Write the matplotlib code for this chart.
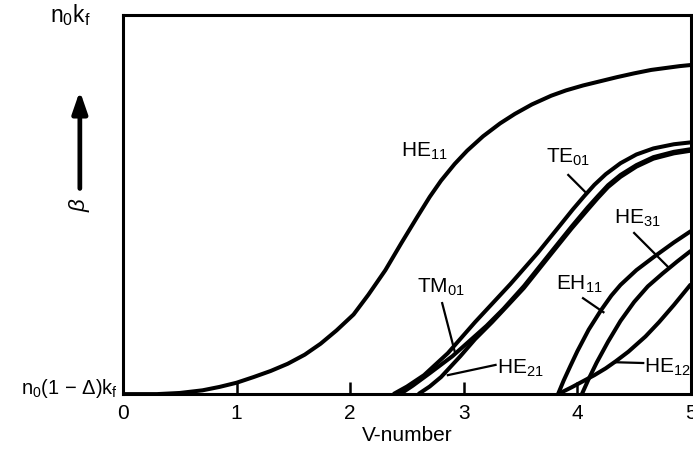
import matplotlib
matplotlib.use("Agg")
import matplotlib.pyplot as plt

plt.rcParams['font.family'] = ['Liberation Sans', 'DejaVu Sans']
plt.rcParams['mathtext.fontset'] = 'custom'
plt.rcParams['mathtext.rm'] = 'Liberation Sans'
plt.rcParams['mathtext.it'] = 'Liberation Sans:italic'

# normalized propagation constant vs V-number
he11_v = [0, 0.3, 0.5, 0.7, 0.85, 1.0, 1.15, 1.3, 1.45, 1.6, 1.74, 1.88, 2.03, 2.16, 2.31,
          2.45, 2.59, 2.7, 2.80, 2.92, 3.03, 3.17, 3.32, 3.45, 3.6, 3.77, 3.9, 4.05, 4.2,
          4.35, 4.5, 4.65, 4.8, 4.9, 5.0]
he11_b = [0, 0.0, 0.003, 0.01, 0.019, 0.03, 0.045, 0.061, 0.08, 0.104, 0.133, 0.168, 0.21,
          0.262, 0.327, 0.398, 0.467, 0.52, 0.563, 0.607, 0.642, 0.68, 0.714, 0.739, 0.764,
          0.787, 0.801, 0.814, 0.825, 0.836, 0.846, 0.855, 0.861, 0.865, 0.868]

te01_v = [2.38, 2.5, 2.65, 2.86, 3.1, 3.41, 3.65, 3.85, 3.96, 4.06, 4.15, 4.25, 4.38, 4.52,
          4.67, 4.85, 5.0]
te01_b = [0, 0.02, 0.05, 0.108, 0.19, 0.29, 0.372, 0.446, 0.487, 0.522, 0.552, 0.58, 0.609,
          0.632, 0.648, 0.659, 0.664]

tm01_v = [2.44, 2.55, 2.7, 2.9, 3.05, 3.2, 3.35, 3.53, 3.77, 3.95, 4.09, 4.18, 4.27, 4.38,
          4.52, 4.67, 4.85, 5.0]
tm01_b = [0, 0.022, 0.055, 0.1, 0.14, 0.18, 0.225, 0.285, 0.375, 0.442, 0.492, 0.522, 0.551,
          0.578, 0.604, 0.625, 0.639, 0.646]

he21_v = [2.6, 2.7, 2.8, 2.97, 3.1, 3.25, 3.4, 3.53, 3.77, 3.95, 4.09, 4.18, 4.27, 4.38,
          4.52, 4.67, 4.85, 5.0]
he21_b = [0, 0.02, 0.045, 0.1, 0.145, 0.19, 0.238, 0.28, 0.37, 0.437, 0.486, 0.517, 0.546,
          0.573, 0.6, 0.621, 0.635, 0.642]

eh11_v = [3.83, 3.88, 3.94, 4.0, 4.1, 4.21, 4.3, 4.38, 4.52, 4.67, 4.85, 5.0]
eh11_b = [0, 0.036, 0.075, 0.113, 0.17, 0.222, 0.26, 0.288, 0.327, 0.361, 0.4, 0.43]

he31_v = [4.04, 4.1, 4.17, 4.27, 4.38, 4.5, 4.62, 4.75, 4.88, 5.0]
he31_b = [0, 0.04, 0.083, 0.138, 0.193, 0.243, 0.284, 0.318, 0.35, 0.378]

he12_v = [3.83, 3.95, 4.05, 4.15, 4.25, 4.34, 4.45, 4.6, 4.72, 4.85, 5.0]
he12_b = [0, 0.018, 0.034, 0.05, 0.068, 0.087, 0.112, 0.152, 0.19, 0.235, 0.29]

x_ticks = [0, 1, 2, 3, 4, 5]
top_label = r'n$\mathregular{_0}$k$\mathregular{_f}$'
bottom_label = r'n$\mathregular{_0}$(1 $-$ $\Delta$)k$\mathregular{_f}$'

fig = plt.figure(figsize=(6.93, 4.53), dpi=100)
ax = fig.add_axes([0.1775, 0.130, 0.8195, 0.837])

lw = 2.9
for v, b in [(he11_v, he11_b), (te01_v, te01_b), (tm01_v, tm01_b), (he21_v, he21_b),
             (eh11_v, eh11_b), (he31_v, he31_b), (he12_v, he12_b)]:
    ax.plot(v, b, color='black', lw=lw, solid_capstyle='butt', solid_joinstyle='round')

ax.set_xlim(0, 5)
ax.set_ylim(0, 1)
for s in ax.spines.values():
    s.set_linewidth(2.2)

ax.set_xticks(x_ticks)
ax.set_xticklabels([str(t) for t in x_ticks])
ax.tick_params(axis='x', direction='in', length=9, width=1.8, labelsize=15, pad=7)
ax.set_yticks([])
ax.set_xlabel('V-number', fontsize=15, labelpad=2)

# y-axis end labels
ax.text(-0.46, 1.0, top_label, fontsize=16.5, ha='center', va='center', clip_on=False)
ax.text(-0.04, 0.015, bottom_label, fontsize=14.5, ha='right', va='center', clip_on=False)

# beta arrow on the left
ax.annotate('', xy=(-0.38, 0.807), xytext=(-0.38, 0.535), xycoords='data',
            annotation_clip=False,
            arrowprops=dict(arrowstyle='-|>,head_width=0.45,head_length=1.3',
                            color='black', lw=3.4))
ax.text(-0.38, 0.5, r'$\beta$', rotation=90, fontsize=16, ha='center', va='center',
        clip_on=False)

lab = dict(fontsize=15, ha='center', va='center')
ax.text(2.65, 0.64, r'HE$\mathregular{_{11}}$', **lab)
ax.text(3.92, 0.625, r'TE$\mathregular{_{01}}$', **lab)
ax.text(4.53, 0.464, r'HE$\mathregular{_{31}}$', **lab)
ax.text(4.02, 0.29, r'EH$\mathregular{_{11}}$', **lab)
ax.text(2.80, 0.282, r'TM$\mathregular{_{01}}$', **lab)
ax.text(3.50, 0.069, r'HE$\mathregular{_{21}}$', **lab)
ax.text(4.79, 0.071, r'HE$\mathregular{_{12}}$', **lab)

leaders = [((3.92, 0.578), (4.07, 0.533)),
           ((4.50, 0.425), (4.80, 0.335)),
           ((4.05, 0.253), (4.23, 0.216)),
           ((2.81, 0.24), (2.92, 0.113)),
           ((3.28, 0.077), (2.86, 0.05)),
           ((4.58, 0.082), (4.34, 0.084))]
for (x0, y0), (x1, y1) in leaders:
    ax.plot([x0, x1], [y0, y1], color='black', lw=1.6)

fig.savefig('out.png', dpi=100)
